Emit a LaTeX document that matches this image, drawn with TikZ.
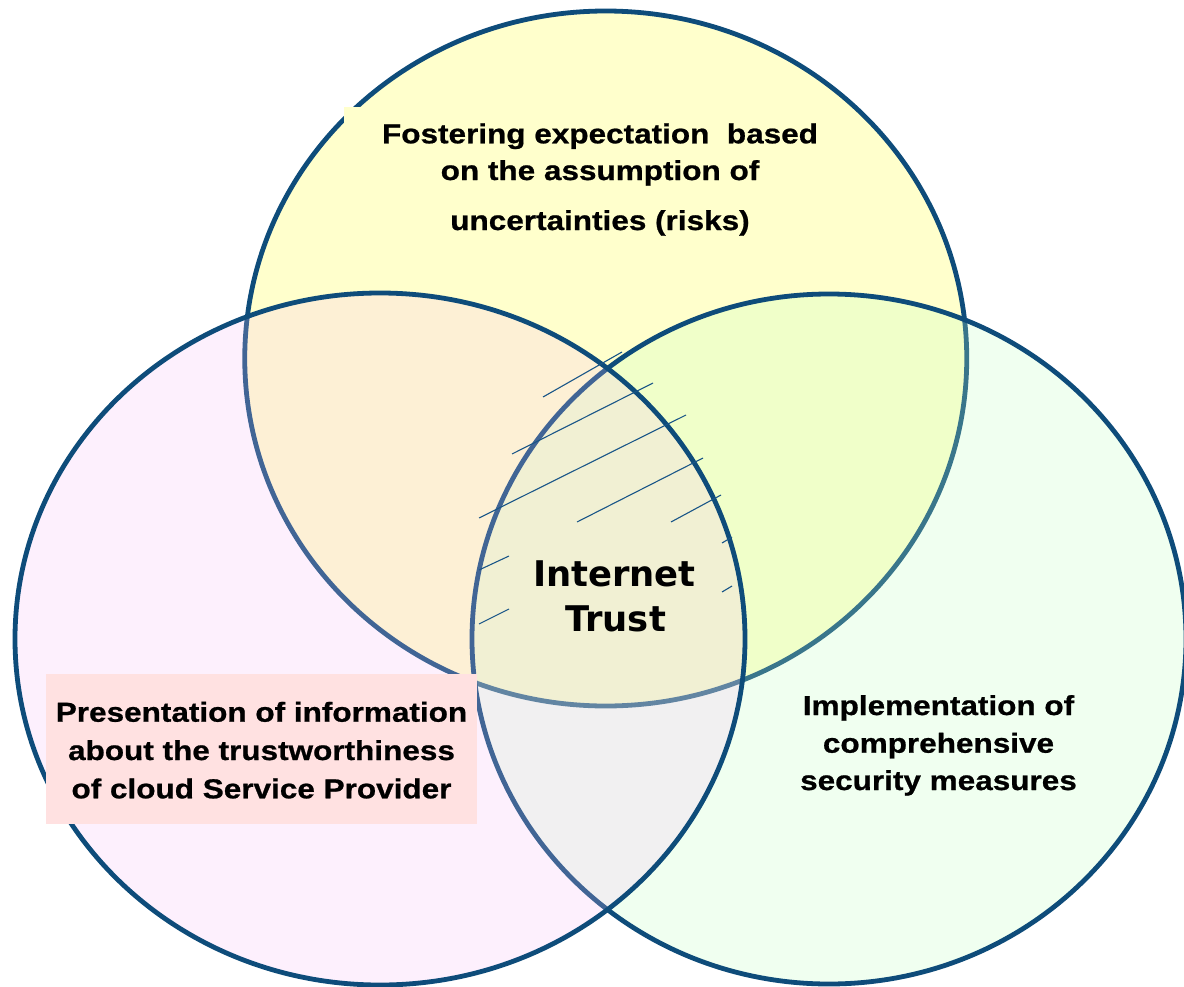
\documentclass[tikz,border=0pt]{standalone}
\usepackage{fontspec}
\newfontfamily\labfont{Liberation Sans}[FakeStretch=1.15,FakeBold=0.8]
\newfontfamily\ctrfont{DejaVu Sans}
\definecolor{edge}{RGB}{14,76,122}
\definecolor{topfill}{RGB}{255,255,204}
\definecolor{rightfill}{RGB}{195,255,195}
\definecolor{leftfill}{RGB}{248,190,248}
\definecolor{boxpink}{RGB}{255,225,225}
\definecolor{hatch}{RGB}{25,85,135}
\begin{document}
\begin{tikzpicture}[x=1bp,y=-1bp,
  ring/.style={draw=edge, line width=4.8bp},
  lab/.style={font=\labfont\bfseries\fontsize{27.5}{33}\selectfont, anchor=base, inner sep=0pt},
  ctr/.style={font=\ctrfont\bfseries\fontsize{35.5}{42}\selectfont, anchor=base, inner sep=0pt},
  hatchline/.style={draw=hatch, line width=1.1bp}]
\useasboundingbox (0,0) rectangle (1184,987);
\fill[white] (0,0) rectangle (1184,987);
% circles
\path[ring, fill=topfill] (605.75,358.5) ellipse [x radius=361bp, y radius=347.5bp];
\fill[topfill] (344,107) rectangle (848,250);
\path[ring, fill=rightfill, fill opacity=0.24] (829,639) ellipse [x radius=357bp, y radius=345bp];
\path[ring, fill=leftfill, fill opacity=0.22] (380,639) ellipse [x radius=365bp, y radius=346bp];
% hatching
\draw[hatchline] (543,397) -- (622,352);
\draw[hatchline] (512,454) -- (653,383);
\draw[hatchline] (479,518) -- (686,415);
\draw[hatchline] (577,522) -- (703,458);
\draw[hatchline] (671,522) -- (721,495);
\draw[hatchline] (479,570) -- (509,556);
\draw[hatchline] (479,624) -- (509,609);
\draw[hatchline] (722,543) -- (732,537);
\draw[hatchline] (722,592) -- (732,586);
% pink label box
\fill[boxpink] (46,674) rectangle (477,824);
% texts
\node[lab] (top1) at (600,143.3) {Fostering expectation\ \ based};
\node[lab] (top2) at (600,180) {on the assumption of};
\node[lab] (top3) at (600,230) {uncertainties (risks)};
\node[lab] (left1) at (261.5,721.7) {Presentation of information};
\node[lab] (left2) at (261.5,760) {about the trustworthiness};
\node[lab] (left3) at (261.5,798.3) {of cloud Service Provider};
\node[lab] (right1) at (938.5,715) {Implementation of};
\node[lab] (right2) at (938.5,752.7) {comprehensive};
\node[lab] (right3) at (938.5,790) {security measures};
\node[ctr] (ctr1) at (614.5,586) {Internet};
\node[ctr] (ctr2) at (615.5,631) {Trust};
\end{tikzpicture}
\end{document}
